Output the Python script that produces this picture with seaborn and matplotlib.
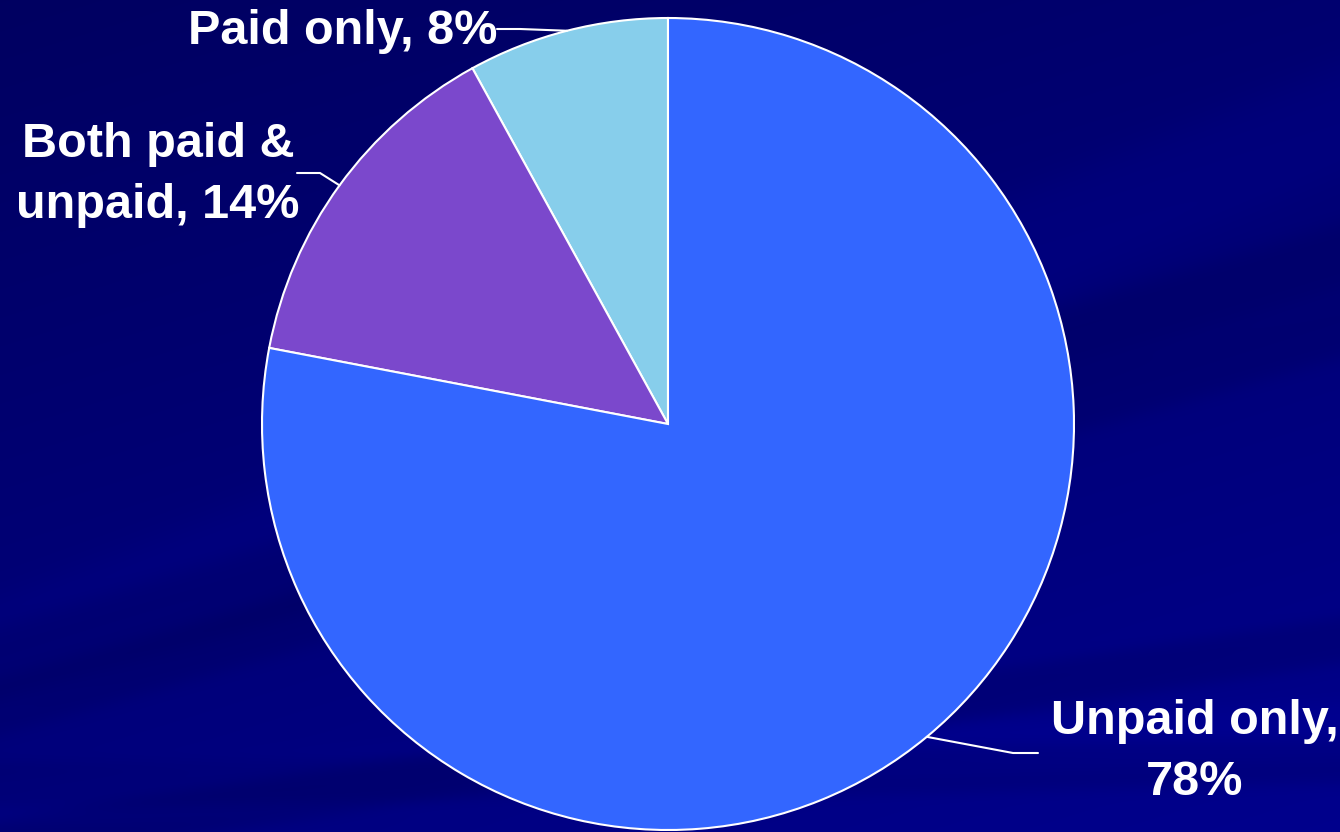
import numpy as np
import matplotlib
matplotlib.use('Agg')
import matplotlib.pyplot as plt
import seaborn as sns

categories = ['Paid only', 'Both paid & unpaid', 'Unpaid only']
shares = [8, 14, 78]
label_texts = ['Paid only, 8%', 'Both paid &\nunpaid, 14%', 'Unpaid only,\n78%']
slice_colors = ['#87CEEB', '#7B48CC', '#3366FF']

sns.set_style('white')
plt.rcParams['font.family'] = ['Liberation Sans', 'DejaVu Sans']

W, H = 1340, 832
fig = plt.figure(figsize=(W / 100, H / 100), dpi=100)

# slide-like dark blue background with faint streaks
bg = fig.add_axes([0, 0, 1, 1])
yy, xx = np.mgrid[0:H, 0:W]
base = 0.40 + 0.06 * (xx / W) + 0.12 * (yy / H)
streaks = [(-0.30, 260, 40, -0.05), (-0.28, 330, 30, -0.04), (-0.15, 640, 25, -0.05),
           (-0.05, 730, 30, 0.03), (-0.02, 760, 25, -0.05), (-0.40, 120, 60, 0.03)]
for slope, off, width, amp in streaks:
    d = yy - (off + slope * (xx - W))
    base += amp * np.exp(-(d / width) ** 4)
blue = np.clip(base, 0, 1)
img = np.dstack([np.zeros_like(blue), np.zeros_like(blue), blue * 0.95])
bg.imshow(img, aspect='auto', extent=[0, 1, 0, 1], origin='upper')
bg.set_axis_off()

# pie centre (668, 424) px, radius 406 px
cx, cy, r = 668, 424, 406
ax = fig.add_axes([(cx - r) / W, (H - cy - r) / H, 2 * r / W, 2 * r / H])
wedges, _ = ax.pie(shares, colors=slice_colors, startangle=90, counterclock=True,
                   wedgeprops=dict(edgecolor='white', linewidth=1.5, clip_on=False))
ax.set_xlim(-1, 1)
ax.set_ylim(-1, 1)
ax.set_axis_off()


def px(x, y):
    return (x - cx) / r, (cy - y) / r


# label placement (pixels): elbow point, line end, text anchor
layout = [
    dict(elbow=(520, 29), end=(497, 29), text=(497, 32), ha='right'),
    dict(elbow=(320, 173), end=(297, 173), text=(158, 175), ha='center'),
    dict(elbow=(1013, 753), end=(1038, 753), text=(1195, 752), ha='center'),
]
for w, txt, lay in zip(wedges, label_texts, layout):
    ang = np.deg2rad((w.theta1 + w.theta2) / 2)
    p0 = (np.cos(ang), np.sin(ang))
    p1 = px(*lay['elbow'])
    p2 = px(*lay['end'])
    ax.plot([p0[0], p1[0], p2[0]], [p0[1], p1[1], p2[1]], color='white', lw=1.5,
            clip_on=False, solid_joinstyle='miter')
    tx, ty = px(*lay['text'])
    ax.text(tx, ty, txt, color='white', fontsize=35, fontweight='bold', ha=lay['ha'],
            va='center', multialignment='center', linespacing=1.45, clip_on=False)

fig.savefig('out.png', dpi=100, facecolor='#000078')
